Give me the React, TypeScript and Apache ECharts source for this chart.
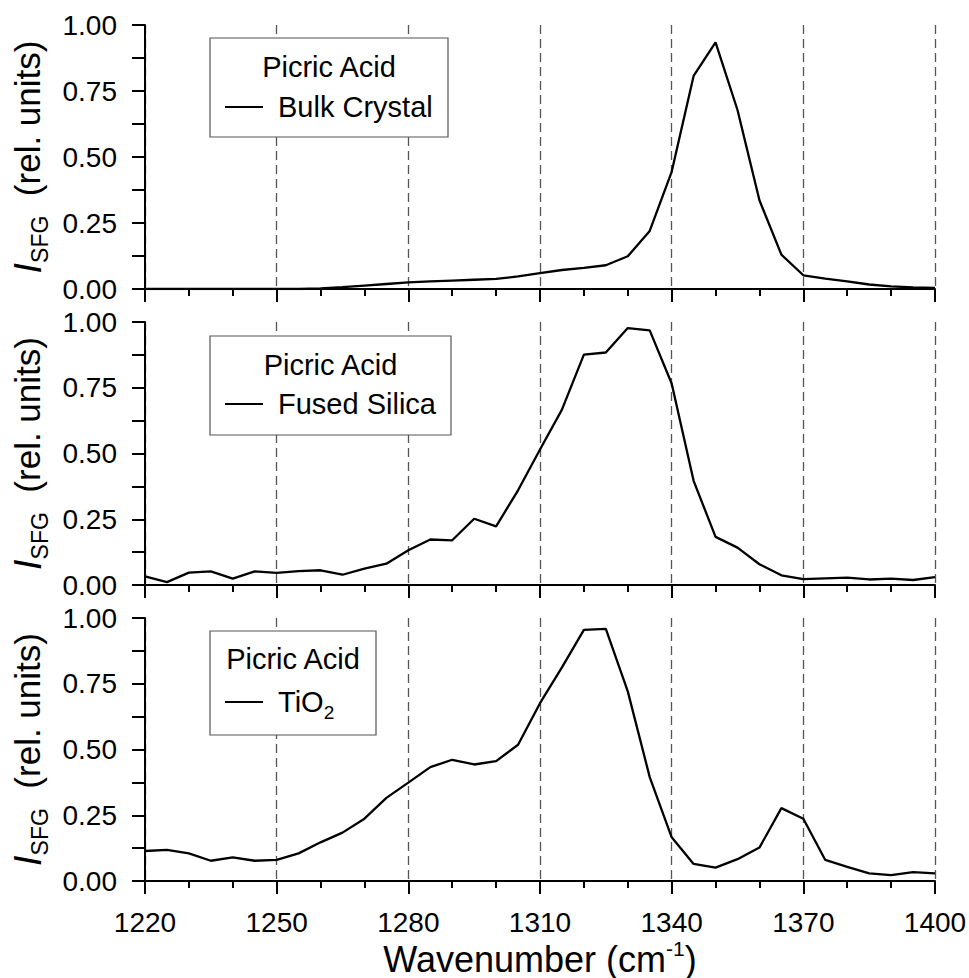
import { useEffect, useRef } from 'react';
import * as echarts from 'echarts';

const FONT = '"Liberation Sans", Arial, Helvetica, sans-serif';

const wavenumbers = [
  1220, 1225, 1230, 1235, 1240, 1245, 1250, 1255, 1260, 1265, 1270, 1275, 1280,
  1285, 1290, 1295, 1300, 1305, 1310, 1315, 1320, 1325, 1330, 1335, 1340, 1345,
  1350, 1355, 1360, 1365, 1370, 1375, 1380, 1385, 1390, 1395, 1400,
];

const bulkCrystal = [
  0, 0, 0, 0, 0, 0, 0, 0, 0.002, 0.007, 0.013, 0.019, 0.025, 0.029, 0.032, 0.035,
  0.038, 0.048, 0.06, 0.072, 0.08, 0.09, 0.124, 0.22, 0.444, 0.807, 0.934, 0.678,
  0.336, 0.13, 0.052, 0.039, 0.029, 0.017, 0.01, 0.006, 0.004,
];

const fusedSilica = [
  0.033, 0.011, 0.047, 0.052, 0.024, 0.052, 0.046, 0.053, 0.056, 0.039, 0.062,
  0.081, 0.132, 0.173, 0.17, 0.252, 0.223, 0.36, 0.515, 0.667, 0.876, 0.884,
  0.977, 0.968, 0.766, 0.396, 0.183, 0.142, 0.079, 0.037, 0.022, 0.025, 0.028,
  0.021, 0.024, 0.019, 0.03,
];

const tio2 = [
  0.114, 0.118, 0.105, 0.077, 0.09, 0.077, 0.08, 0.105, 0.147, 0.184, 0.237,
  0.316, 0.374, 0.433, 0.461, 0.443, 0.456, 0.518, 0.676, 0.812, 0.955, 0.959,
  0.721, 0.395, 0.166, 0.065, 0.051, 0.083, 0.127, 0.277, 0.237, 0.08, 0.054,
  0.029, 0.022, 0.034, 0.029,
];

const seriesNames = ['Bulk Crystal', 'Fused Silica', 'TiO2'];
const seriesValues = [bulkCrystal, fusedSilica, tio2];
const legendTitle = 'Picric Acid';
const xAxisTitle = 'Wavenumber (cm';
const xAxisTitleSup = '-1';
const yAxisTitleMain = 'I';
const yAxisTitleSub = 'SFG';
const yAxisTitleRest = '(rel. units)';

const X_MIN = 1220;
const X_MAX = 1400;
const X_STEP = 30;
const Y_MIN = 0;
const Y_MAX = 1;
const Y_STEP = 0.25;

// layout
const GRID_LEFT = 145;
const GRID_WIDTH = 790;
const gridTops = [25, 322, 618];
const gridHeights = [264, 263, 263];
const boxes = [
  { x: 210, y: 38, w: 238, h: 99, titleY: 67, itemY: 107 },
  { x: 210, y: 336, w: 241, h: 99, titleY: 365, itemY: 404 },
  { x: 210, y: 631, w: 166, h: 104, titleY: 659, itemY: 702 },
];

export default function App() {
  const ref = useRef<HTMLDivElement>(null);

  useEffect(() => {
    document.body.style.margin = '0';
    if (!ref.current) return;
    const chart = echarts.init(ref.current, undefined, { renderer: 'svg' });

    const grids = gridTops.map((top, i) => ({
      left: GRID_LEFT,
      top,
      width: GRID_WIDTH,
      height: gridHeights[i],
      containLabel: false,
      outerBoundsMode: 'none',
    }));

    const xAxes = gridTops.map((_, i) => ({
      type: 'value',
      gridIndex: i,
      min: X_MIN,
      max: X_MAX,
      interval: X_STEP,
      position: 'bottom',
      axisLine: { show: true, onZero: false, lineStyle: { color: '#000', width: 2 } },
      axisTick: { show: true, inside: false, length: 13, lineStyle: { color: '#000', width: 2 } },
      minorTick: { show: true, splitNumber: 3, length: 7, lineStyle: { color: '#000', width: 2 } },
      splitLine: {
        show: true,
        lineStyle: { color: '#555', width: 1.3, type: [9, 5] },
      },
      minorSplitLine: { show: false },
      axisLabel: {
        show: i === 2,
        margin: 27,
        color: '#000',
        fontSize: 28,
        fontFamily: FONT,
        formatter: (v: number) => String(v),
      },
      name: i === 2 ? `{a|${xAxisTitle}}{sup|${xAxisTitleSup}}{a|)}` : '',
      nameLocation: 'middle',
      nameGap: 57,
      nameTextStyle: {
        color: '#000',
        fontFamily: FONT,
        rich: {
          a: { fontSize: 36, lineHeight: 42, color: '#000', fontFamily: FONT },
          sup: { fontSize: 21, lineHeight: 21, verticalAlign: 'top', color: '#000', fontFamily: FONT },
        },
      },
    }));

    const yAxes = gridTops.map((_, i) => ({
      type: 'value',
      gridIndex: i,
      min: Y_MIN,
      max: Y_MAX,
      interval: Y_STEP,
      axisLine: { show: true, lineStyle: { color: '#000', width: 2 } },
      axisTick: { show: true, inside: false, length: 13, lineStyle: { color: '#000', width: 2 } },
      minorTick: { show: true, splitNumber: 2, length: 13, lineStyle: { color: '#000', width: 2 } },
      splitLine: { show: false },
      axisLabel: {
        margin: 28,
        color: '#000',
        fontSize: 28,
        fontFamily: FONT,
        formatter: (v: number) => v.toFixed(2),
      },
      name: `{i|${yAxisTitleMain}}{s|${yAxisTitleSub}}{n|  ${yAxisTitleRest}}`,
      nameLocation: 'middle',
      nameRotate: 90,
      nameGap: 91,
      nameTextStyle: {
        color: '#000',
        fontFamily: FONT,
        rich: {
          i: { fontSize: 38, fontStyle: 'italic', lineHeight: 48, color: '#000', fontFamily: FONT },
          s: { fontSize: 23, lineHeight: 22, verticalAlign: 'bottom', color: '#000', fontFamily: FONT },
          n: { fontSize: 35, lineHeight: 48, color: '#000', fontFamily: FONT },
        },
      },
    }));

    const series = seriesNames.map((name, i) => ({
      type: 'line',
      name,
      xAxisIndex: i,
      yAxisIndex: i,
      data: wavenumbers.map((w, k) => [w, seriesValues[i][k]]),
      showSymbol: false,
      symbol: 'none',
      color: '#000',
      lineStyle: { color: '#000', width: 2.3 },
      z: 3,
    }));

    const legends = seriesNames.map((name, i) => ({
      data: [name],
      left: 225,
      top: boxes[i].itemY - 20,
      orient: 'horizontal',
      padding: 0,
      icon: 'rect',
      itemWidth: 38,
      itemHeight: 2,
      itemStyle: { color: '#000' },
      selectedMode: false,
      z: 20,
      formatter: (n: string) => (n === 'TiO2' ? 'TiO{sub|2}' : n),
      textStyle: {
        color: '#000',
        fontSize: 29,
        lineHeight: 40,
        fontFamily: FONT,
        padding: [0, 0, 0, 10],
        rich: {
          sub: { fontSize: 19, lineHeight: 18, verticalAlign: 'bottom', color: '#000', fontFamily: FONT },
        },
      },
    }));

    const graphics: any[] = [];
    boxes.forEach((b) => {
      graphics.push({
        type: 'rect',
        z: 10,
        shape: { x: b.x, y: b.y, width: b.w, height: b.h },
        style: { fill: '#fff', stroke: '#555', lineWidth: 1.2 },
      });
      graphics.push({
        type: 'text',
        z: 20,
        x: b.x + b.w / 2,
        y: b.titleY,
        style: {
          text: legendTitle,
          fill: '#000',
          fontSize: 29,
          fontFamily: FONT,
          textAlign: 'center',
          textVerticalAlign: 'middle',
        },
      });
    });

    chart.setOption({
      animation: false,
      backgroundColor: '#fff',
      grid: grids,
      xAxis: xAxes,
      yAxis: yAxes,
      series,
      legend: legends,
      graphic: { elements: graphics },
    } as any);

    return () => chart.dispose();
  }, []);

  return <div ref={ref} style={{ width: 969, height: 978 }} />;
}
